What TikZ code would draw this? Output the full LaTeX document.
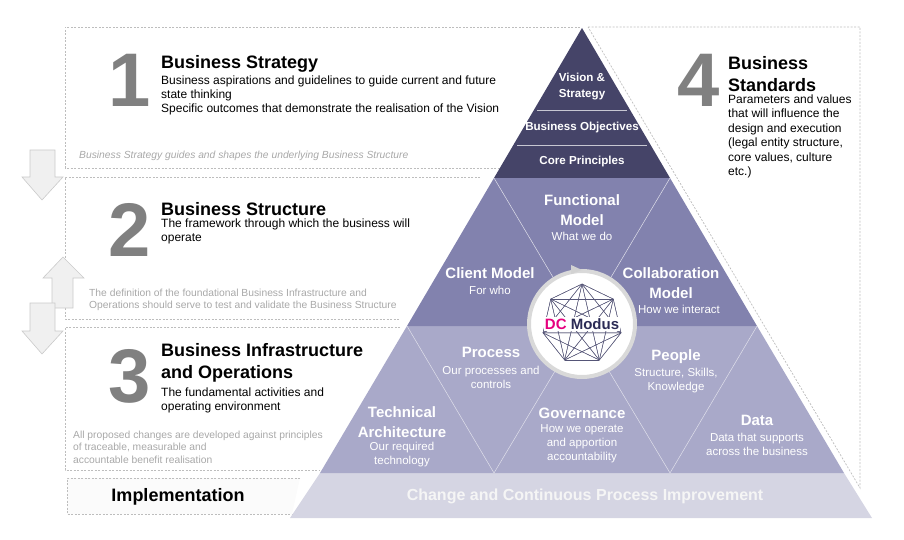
\documentclass[tikz,border=0pt]{standalone}
\usepackage{fontspec}
\setmainfont{Liberation Sans}
\usetikzlibrary{positioning}
\usetikzlibrary{calc}

\definecolor{darkband}{HTML}{454468}
\definecolor{midband}{HTML}{8282AE}
\definecolor{lowband}{HTML}{A9A9C9}
\definecolor{baseband}{HTML}{D5D5E3}
\definecolor{numgray}{HTML}{808080}
\definecolor{notegray}{HTML}{A8A8A8}
\definecolor{boxgray}{HTML}{BDBDBD}
\definecolor{dcpink}{HTML}{E6007E}
\definecolor{dcnavy}{HTML}{2B2B55}

\tikzset{
  dashbox/.style={draw=boxgray,dash pattern=on 2pt off 1.5pt,line width=0.7pt},
  blockarrow/.style={draw=boxgray!80,fill=gray!12,line width=0.6pt},
  bignum/.style={text=numgray,font=\fontsize{76}{76}\selectfont\bfseries,inner sep=0pt},
  title/.style={anchor=north west,align=left,inner sep=0pt,font=\fontsize{18}{22}\selectfont\bfseries},
  body/.style={anchor=north west,align=left,inner sep=0pt,font=\fontsize{12}{14.3}\selectfont},
  note/.style={anchor=north west,align=left,inner sep=0pt,text=notegray,font=\fontsize{10.3}{12.3}\selectfont},
  ptitle/.style={text=white,align=center,inner sep=0pt,font=\fontsize{15}{20}\selectfont\bfseries},
  psub/.style={text=white,align=center,inner sep=0pt,font=\fontsize{11.5}{14}\selectfont},
  dtitle/.style={text=white,align=center,inner sep=0pt,font=\fontsize{11.6}{16}\selectfont\bfseries},
  divider/.style={draw=white!75!midband,line width=0.5pt}
}

\begin{document}
\begin{tikzpicture}[x=1pt,y=-1pt]
\useasboundingbox (0,0) rectangle (904,540);

% dashed frames
\draw[dashbox] (580,27) -- (65,27) -- (65,168) -- (560,168);
\draw[dashbox] (480,177) -- (65,177) -- (65,319) -- (400,319);
\draw[dashbox] (400,327) -- (65,327) -- (65,470) -- (320,470);
\draw[dashbox,fill=gray!3] (300,478) -- (67,478) -- (67,514) -- (292,514);
\draw[dashbox] (588,27) -- (860,27) -- (860,488) -- cycle;

% flow arrows
\draw[blockarrow] (30,150) -- (55,150) -- (55,177) -- (63,177) -- (42,200) -- (22,177) -- (30,177) -- cycle;
\draw[blockarrow] (52,308) -- (73,308) -- (73,278) -- (84,278) -- (63,257) -- (43,278) -- (52,278) -- cycle;
\draw[blockarrow] (30,303) -- (55,303) -- (55,331) -- (63,331) -- (42,354) -- (22,331) -- (30,331) -- cycle;

% pyramid
\coordinate (apex) at (582,28);
\coordinate (dl) at (494,178);
\coordinate (dr) at (670,178);
\coordinate (ml) at (407,326);
\coordinate (mc) at (582,326);
\coordinate (mr) at (757,326);
\coordinate (ll) at (320,473);
\coordinate (lc1) at (494,473);
\coordinate (lc2) at (670,473);
\coordinate (lr) at (844,473);
\coordinate (bl) at (290,518);
\coordinate (br) at (872,518);

\fill[baseband] (ll) -- (lr) -- (br) -- (bl) -- cycle;
\fill[lowband] (ml) -- (mr) -- (lr) -- (ll) -- cycle;
\fill[midband] (dl) -- (dr) -- (mr) -- (ml) -- cycle;
\fill[darkband] (apex) -- (dr) -- (dl) -- cycle;
\draw[white!70!darkband,line width=0.5pt] (537,110) -- (627,110);
\draw[white!70!darkband,line width=0.5pt] (517,145) -- (647,145);
\draw[divider] (dl) -- (mc) -- (dr);
\draw[divider] (ml) -- (lc1) -- (mc) -- (lc2) -- (mr);

% hub
\node[circle,draw=gray!30,line width=4pt,fill=white,minimum size=106pt] (hub) at (582,324) {};
\fill[gray!35] (571,274) -- (582,270) -- (571,265) -- cycle;
\foreach \i in {0,...,6}
  \coordinate (v\i) at ($(hub)+({90+\i*360/7+180/7}:40)$);
\foreach \i in {0,...,6}
  \foreach \j in {0,...,6}
    \draw[dcnavy!80,line width=0.4pt] (v\i) -- (v\j);
\node[fill=white,inner sep=1pt,font=\fontsize{15}{15}\selectfont\bfseries] (dcmodus) at (hub) {\textcolor{dcpink}{DC} \textcolor{dcnavy}{Modus}};

% pyramid labels
\node[dtitle] (vision) at (582,87) {Vision \&\\Strategy};
\node[dtitle] (objectives) at (582,128) {Business Objectives};
\node[dtitle] (principles) at (582,162) {Core Principles};
\node[ptitle] (functional) at (582,210) {Functional\\Model};
\node[psub] (functionalsub) at (582,236) {What we do};
\node[ptitle] (client) at (490,273) {Client Model};
\node[psub] (clientsub) at (490,290) {For who};
\node[ptitle] (collab) at (671,283) {Collaboration\\Model};
\node[psub] (collabsub) at (679,309) {How we interact};
\node[ptitle] (process) at (491,352) {Process};
\node[psub] (processsub) at (491,377) {Our processes and\\controls};
\node[ptitle] (people) at (676,357) {People};
\node[psub] (peoplesub) at (676,381) {Structure, Skills,\\Knowledge};
\node[ptitle] (technical) at (402,422) {Technical\\Architecture};
\node[psub] (technicalsub) at (402,455) {Our required\\technology};
\node[ptitle] (governance) at (582,413) {Governance};
\node[psub] (governancesub) at (582,444) {How we operate\\and apportion\\accountability};
\node[ptitle] (data) at (757,420) {Data};
\node[psub] (datasub) at (757,444) {Data that supports\\across the business};
\node[ptitle,font=\fontsize{16}{20}\selectfont\bfseries,text=gray!8] (improve) at (585,496) {Change and Continuous Process Improvement};

% layer texts
\node[bignum] (one) at (130,80) {1};
\node[title] (strategy) at (161,55) {Business Strategy};
\node[body,below=3pt of strategy.south west,anchor=north west] (strategybody) {Business aspirations and guidelines to guide current and future\\state thinking\\Specific outcomes that demonstrate the realisation of the Vision};
\node[note,font=\fontsize{10.3}{12}\selectfont\itshape] (strategynote) at (79,151) {Business Strategy guides and shapes the underlying Business Structure};

\node[bignum] (two) at (130,230) {2};
\node[title] (structure) at (161,202) {Business Structure};
\node[body,below=3pt of structure.south west,anchor=north west] (structurebody) {The framework through which the business will\\operate};
\node[note] (structurenote) at (89,289) {The definition of the foundational Business Infrastructure and\\Operations should serve to test and validate the Business Structure};

\node[bignum] (three) at (130,376) {3};
\node[title] (infra) at (161,343) {Business Infrastructure\\and Operations};
\node[body,below=5pt of infra.south west,anchor=north west] (infrabody) {The fundamental activities and\\operating environment};
\node[note] (infranote) at (73,431) {All proposed changes are developed against principles\\of traceable, measurable and\\accountable benefit realisation};

\node[bignum] (four) at (699,80) {4};
\node[title] (standards) at (728,56) {Business\\Standards};
\node[body,below=3pt of standards.south west,anchor=north west,font=\fontsize{12}{14.4}\selectfont] (standardsbody) {Parameters and values\\that will influence the\\design and execution\\(legal entity structure,\\core values, culture\\etc.)};

\node[font=\fontsize{18}{18}\selectfont\bfseries] (implementation) at (178,497) {Implementation};
\end{tikzpicture}
\end{document}
